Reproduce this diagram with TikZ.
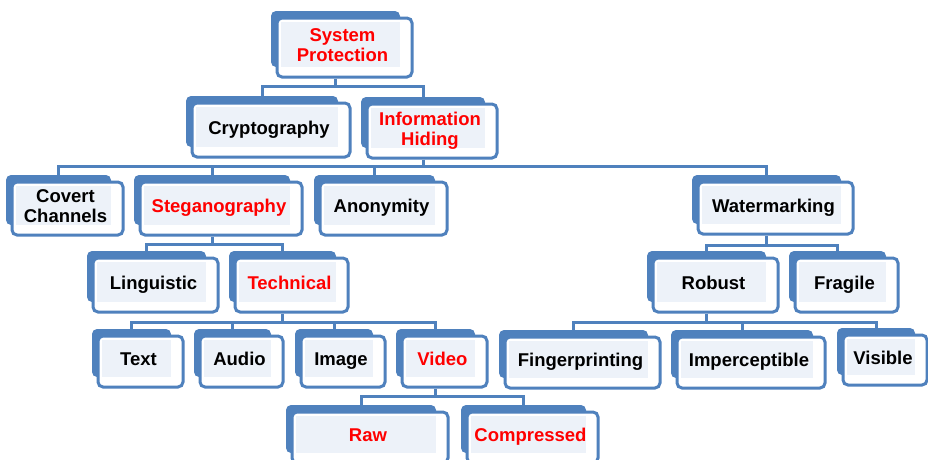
\documentclass[tikz,border=0pt]{standalone}
\usepackage{fontspec}
\setmainfont{Liberation Sans}
\usetikzlibrary{fit,calc}
\definecolor{orgblue}{HTML}{4F81BD}
\definecolor{orglight}{HTML}{EDF2F9}
\definecolor{orgred}{HTML}{FF0000}
\tikzset{
  backbox/.style={fill=orgblue, rounded corners=5pt, inner sep=0pt, draw=none},
  frontbox/.style={fill=white, draw=orgblue, line width=3pt, rounded corners=5pt, inner sep=0pt},
  lightbox/.style={fill=orglight, inner sep=0pt, draw=none},
  boxlabel/.style={font=\fontsize{18.5}{20}\selectfont\bfseries, align=center, inner sep=0pt,
    execute at begin node=\strut, execute at end node=\strut},
  conn/.style={draw=orgblue, line width=3pt},
}
% \orgbox{name}{left}{top}{right}{bottom}{label}{label colour}
% the front frame is given; the shadow frame behind it is derived from it
\newcommand\orgbox[7]{%
  \node[backbox, fit={(#2-6,#3-7) (#4-12,#5-10)}] (#1B) {};
  \node[frontbox, fit={(#2,#3) (#4,#5)}] (#1) {};
  \node[lightbox, fit={(#2+4,#3+4) (#4-12,#5-10)}] (#1L) {};
  \node[boxlabel, text=#7] (#1T) at ($(#1L.center)+(2,3.4)$) {#6};
}
\begin{document}
\begin{tikzpicture}[x=1pt, y=-1pt]
  \useasboundingbox (0,0) rectangle (928,459);
  \fill[white] (0,0) rectangle (928,459);
  \clip (0,0) rectangle (928,459);

  % level 1
  \orgbox{sp}{277}{18}{412}{77}{System\\Protection}{orgred}
  % level 2
  \orgbox{cry}{192}{103}{350}{157}{Cryptography}{black}
  \orgbox{ih}{367}{104}{497}{158}{Information\\Hiding}{orgred}
  % level 3
  \orgbox{cov}{12}{182}{123}{235}{Covert\\Channels}{black}
  \orgbox{steg}{140}{182}{302}{235}{Steganography}{orgred}
  \orgbox{anon}{320}{182}{447}{235}{Anonymity}{black}
  \orgbox{wm}{698}{182}{853}{234}{Watermarking}{black}
  % level 4
  \orgbox{ling}{93}{258}{218}{312}{Linguistic}{black}
  \orgbox{tech}{235}{258}{348}{312}{Technical}{orgred}
  \orgbox{rob}{653}{258}{778}{312}{Robust}{black}
  \orgbox{frag}{795}{258}{898}{312}{Fragile}{black}
  % level 5
  \orgbox{txt}{98}{336}{183}{387}{Text}{black}
  \orgbox{aud}{200}{336}{283}{387}{Audio}{black}
  \orgbox{img}{301}{336}{385}{387}{Image}{black}
  \orgbox{vid}{402}{336}{487}{387}{Video}{orgred}
  \orgbox{fing}{505}{337}{660}{388}{Fingerprinting}{black}
  \orgbox{imp}{677}{337}{825}{388}{Imperceptible}{black}
  \orgbox{vis}{843}{335}{927}{385}{Visible}{black}
  % level 6
  \orgbox{raw}{292}{412}{448}{463}{Raw}{orgred}
  \orgbox{comp}{467}{412}{598}{463}{Compressed}{orgred}

  % bus junctions below each parent
  \coordinate (jsp)   at ($(spB.center |- sp.south)+(0,8)$);
  \coordinate (jih)   at ($(ihB.center |- ih.south)+(0,7)$);
  \coordinate (jsteg) at ($(stegB.center |- steg.south)+(0,8)$);
  \coordinate (jwm)   at ($(wmB.center |- wm.south)+(0,10)$);
  \coordinate (jtech) at ($(techB.center |- tech.south)+(0,9)$);
  \coordinate (jrob)  at ($(robB.center |- rob.south)+(0,9)$);
  \coordinate (jvid)  at ($(vidB.center |- vid.south)+(0,8)$);

  % connectors
  \draw[conn] (spB.center |- sp.south) -- (jsp);
  \draw[conn] (cryB.north) |- (jsp) -| (ihB.north);

  \draw[conn] (ihB.center |- ih.south) -- (jih);
  \draw[conn] (covB.north) |- (jih) -| (wmB.north);
  \draw[conn] (stegB.north) -- (stegB.north |- jih);
  \draw[conn] (anonB.north) -- (anonB.north |- jih);

  \draw[conn] (stegB.center |- steg.south) -- (jsteg);
  \draw[conn] (lingB.north) |- (jsteg) -| (techB.north);

  \draw[conn] (wmB.center |- wm.south) -- (jwm);
  \draw[conn] (robB.north) |- (jwm) -| (fragB.north);

  \draw[conn] (techB.center |- tech.south) -- (jtech);
  \draw[conn] (txtB.north) |- (jtech) -| (vidB.north);
  \draw[conn] (audB.north) -- (audB.north |- jtech);
  \draw[conn] (imgB.north) -- (imgB.north |- jtech);

  \draw[conn] (robB.center |- rob.south) -- (jrob);
  \draw[conn] (fingB.north) |- (jrob) -| (visB.north);
  \draw[conn] (impB.north) -- (impB.north |- jrob);

  \draw[conn] (vidB.center |- vid.south) -- (jvid);
  \draw[conn] (rawB.north) |- (jvid) -| (compB.north);
\end{tikzpicture}
\end{document}
